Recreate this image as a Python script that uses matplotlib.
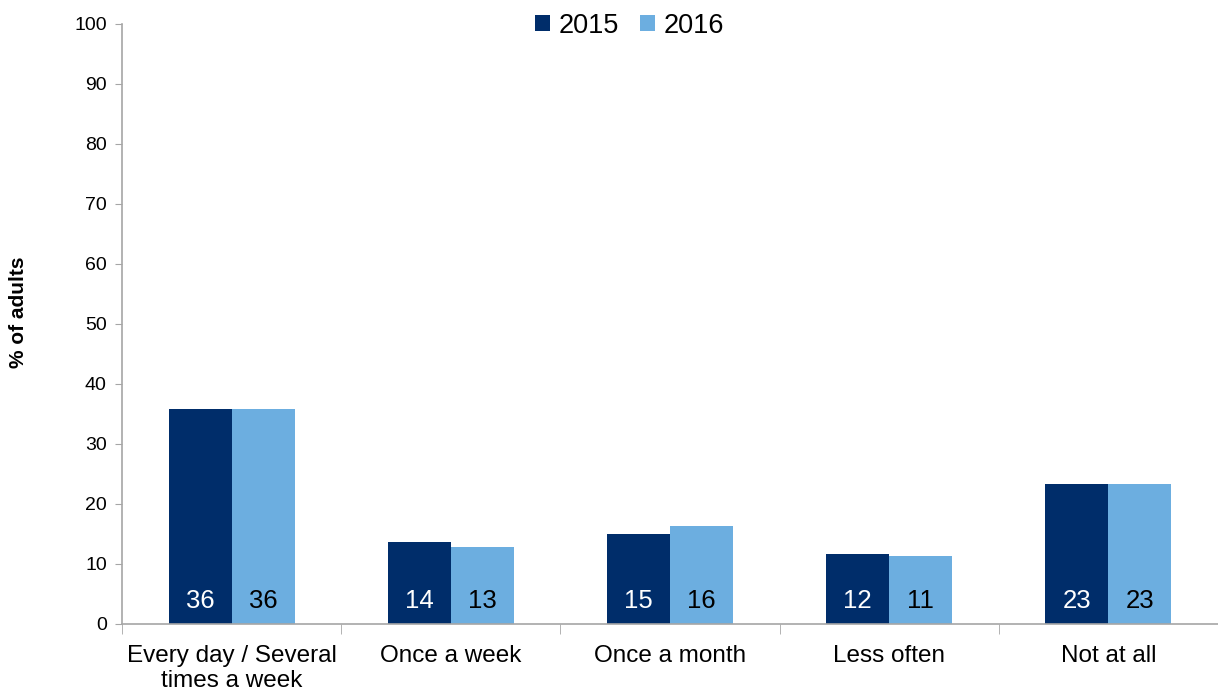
import numpy as np
import matplotlib.pyplot as plt
from matplotlib.ticker import FixedLocator, NullFormatter

plt.rcParams['font.family'] = ['Liberation Sans', 'DejaVu Sans']

# Survey frequency categories and share of adults per year
categories = ['Every day / Several\ntimes a week', 'Once a week', 'Once a month',
              'Less often', 'Not at all']
pct_2015 = [35.9, 13.6, 15.0, 11.7, 23.3]
pct_2016 = [35.9, 12.8, 16.3, 11.4, 23.3]

dark = '#002D6A'
light = '#6CAEE0'
axis_grey = '#A6A6A6'

fig = plt.figure(figsize=(12.18, 6.93), dpi=100)
ax = fig.add_axes([0.1002, 0.0996, 0.8998, 0.8658])

x = np.arange(len(categories))
w = 0.287
b1 = ax.bar(x - w / 2, pct_2015, w, color=dark, label='2015')
b2 = ax.bar(x + w / 2, pct_2016, w, color=light, label='2016')

# value labels near the base of each bar
for bars, col in ((b1, 'white'), (b2, 'black')):
    for r in bars:
        ax.text(r.get_x() + r.get_width() / 2, 3.9, f'{r.get_height():.0f}',
                ha='center', va='center', fontsize=18.5, color=col)

ax.set_xlim(-0.5, len(categories) - 0.5)
ax.set_ylim(0, 100)
ax.set_yticks(range(0, 101, 10))
ax.tick_params(axis='y', labelsize=14, length=5, color=axis_grey, pad=6)

# category names centred, tick marks on the boundaries
ax.set_xticks(x)
ax.set_xticklabels(categories, fontsize=17.5)
ax.tick_params(axis='x', length=0, pad=15)
ax.xaxis.set_minor_locator(FixedLocator(np.arange(-0.5, len(categories), 1.0)))
ax.xaxis.set_minor_formatter(NullFormatter())
ax.tick_params(axis='x', which='minor', length=7, color=axis_grey)

for s in ('top', 'right'):
    ax.spines[s].set_visible(False)
for s in ('left', 'bottom'):
    ax.spines[s].set_color(axis_grey)
    ax.spines[s].set_linewidth(1.2)

fig.text(0.015, 0.549, '% of adults', rotation=90, ha='center', va='center',
         fontsize=15, fontweight='bold')

fig.legend(loc='center', bbox_to_anchor=(0.517, 0.963), ncol=2, frameon=False,
           fontsize=19.5, handlelength=0.55, handleheight=0.55, handletextpad=0.3,
           columnspacing=0.8)

fig.savefig('out.png', dpi=100)
